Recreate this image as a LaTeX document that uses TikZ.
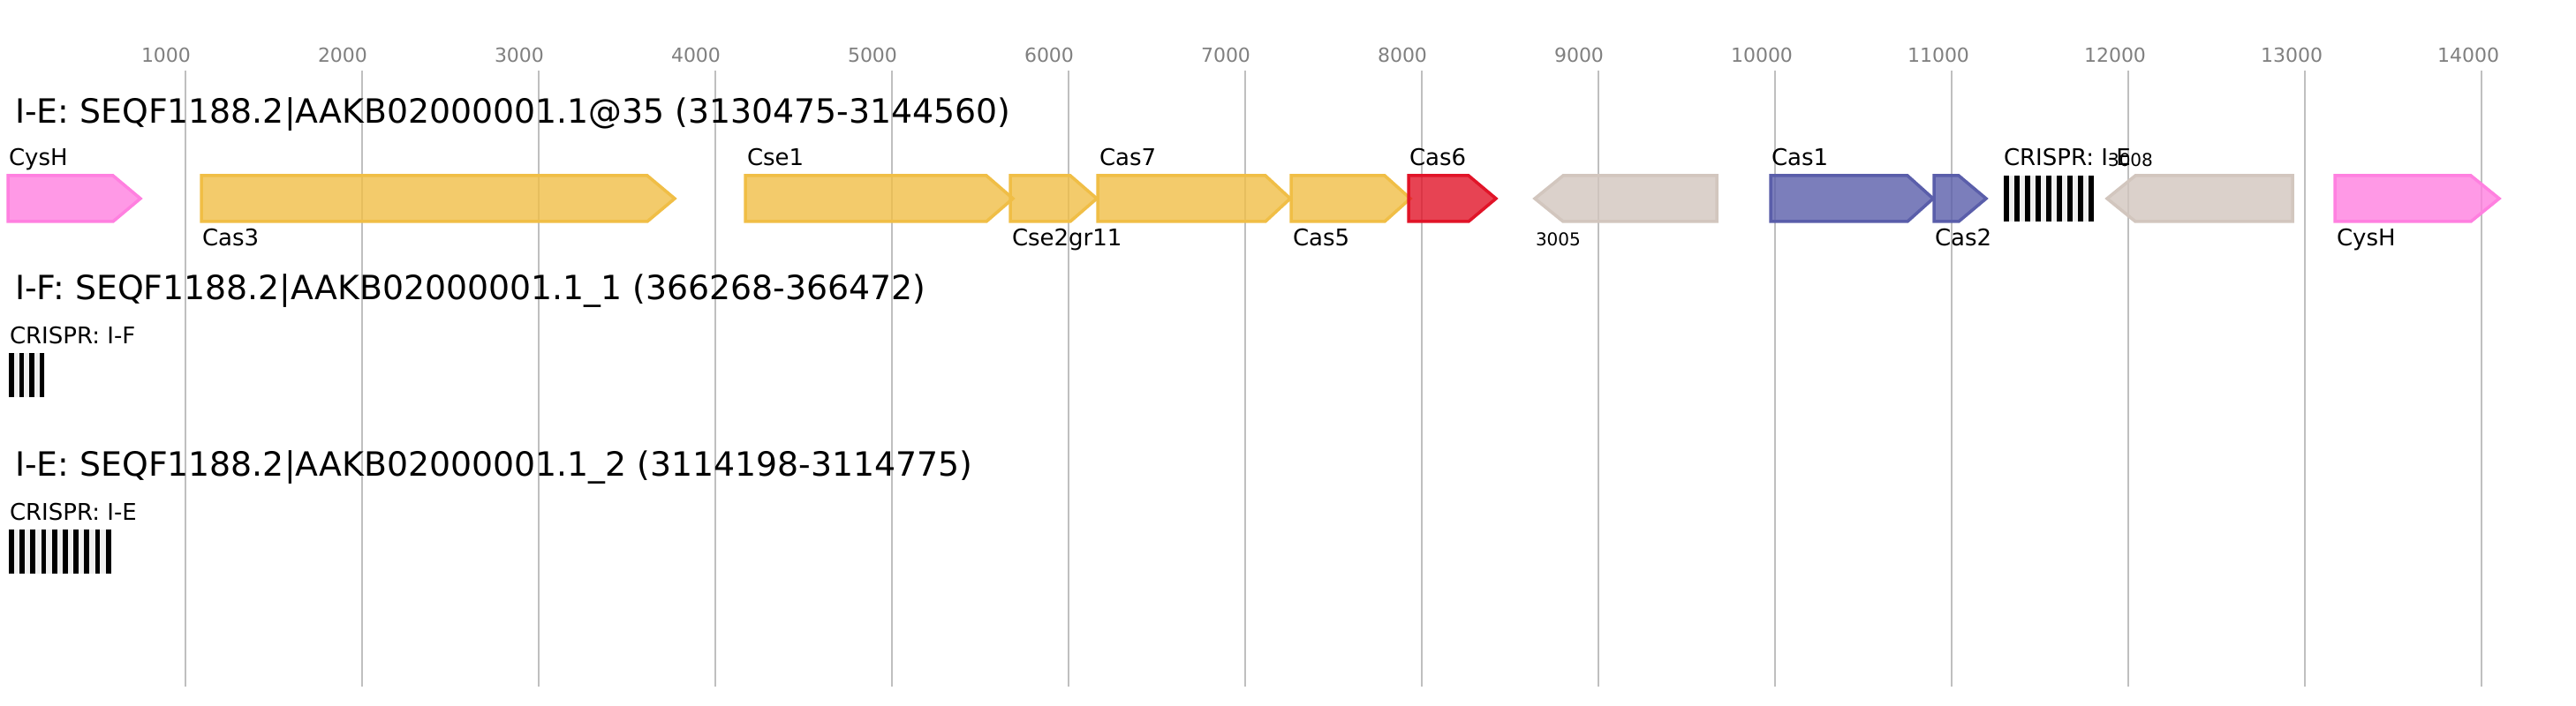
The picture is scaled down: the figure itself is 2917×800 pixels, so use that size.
\documentclass[tikz,border=0pt]{standalone}
\usepackage{fontspec}
\setmainfont{DejaVu Sans}
\usepackage{xcolor}

\begin{document}
\begin{tikzpicture}[x=1pt,y=1pt,
  genearrow/.style={line width=3.5pt,line join=miter,fill opacity=0.8},
  genelabel/.style={anchor=base west,inner sep=0pt,outer sep=0pt,scale=2.6},
  smalllabel/.style={anchor=base west,inner sep=0pt,outer sep=0pt,scale=2.0},
  tracktitle/.style={anchor=base west,inner sep=0pt,outer sep=0pt,scale=3.78},
  ticklabel/.style={anchor=base west,inner sep=0pt,outer sep=0pt,scale=2.2}]
\definecolor{fillColor}{RGB}{255,255,255}
\path[use as bounding box,fill=fillColor] (0,0) rectangle (2917,800);
\begin{scope}
\definecolor{drawColor}{gray}{0.75}

\path[draw=drawColor,line width= 2pt] ( 210,720) -- ( 210,22);

\path[draw=drawColor,line width= 2pt] ( 410,720) -- ( 410,22);

\path[draw=drawColor,line width= 2pt] ( 610,720) -- ( 610,22);

\path[draw=drawColor,line width= 2pt] ( 810,720) -- ( 810,22);

\path[draw=drawColor,line width= 2pt] (1010,720) -- (1010,22);

\path[draw=drawColor,line width= 2pt] (1210,720) -- (1210,22);

\path[draw=drawColor,line width= 2pt] (1410,720) -- (1410,22);

\path[draw=drawColor,line width= 2pt] (1610,720) -- (1610,22);

\path[draw=drawColor,line width= 2pt] (1810,720) -- (1810,22);

\path[draw=drawColor,line width= 2pt] (2010,720) -- (2010,22);

\path[draw=drawColor,line width= 2pt] (2210,720) -- (2210,22);

\path[draw=drawColor,line width= 2pt] (2410,720) -- (2410,22);

\path[draw=drawColor,line width= 2pt] (2610,720) -- (2610,22);

\path[draw=drawColor,line width= 2pt] (2810,720) -- (2810,22);
\definecolor{drawColor}{gray}{0.50}

\node[text=drawColor,ticklabel] (t1) at ( 160,729) {1000};

\node[text=drawColor,ticklabel] (t2) at ( 360,729) {2000};

\node[text=drawColor,ticklabel] (t3) at ( 560,729) {3000};

\node[text=drawColor,ticklabel] (t4) at ( 760,729) {4000};

\node[text=drawColor,ticklabel] (t5) at ( 960,729) {5000};

\node[text=drawColor,ticklabel] (t6) at (1160,729) {6000};

\node[text=drawColor,ticklabel] (t7) at (1360,729) {7000};

\node[text=drawColor,ticklabel] (t8) at (1560,729) {8000};

\node[text=drawColor,ticklabel] (t9) at (1760,729) {9000};

\node[text=drawColor,ticklabel] (t10) at (1960,729) {10000};

\node[text=drawColor,ticklabel] (t11) at (2160,729) {11000};

\node[text=drawColor,ticklabel] (t12) at (2360,729) {12000};

\node[text=drawColor,ticklabel] (t13) at (2560,729) {13000};

\node[text=drawColor,ticklabel] (t14) at (2760,729) {14000};
\end{scope}
% track 1
\begin{scope}
\node[tracktitle] (title1) at (17,660) {I-E: SEQF1188.2|AAKB02000001.1@35 (3130475-3144560)};
\definecolor{drawColor}{RGB}{255,128,224}

\path[draw=drawColor,fill=drawColor,genearrow] (   9,601) -- ( 128,601) -- ( 159,575) -- ( 128,549) -- (   9,549) -- cycle;

\path[draw=drawColor,fill=drawColor,genearrow] (2644,601) -- (2798,601) -- (2830,575) -- (2798,549) -- (2644,549) -- cycle;
\definecolor{drawColor}{RGB}{240,190,70}

\path[draw=drawColor,fill=drawColor,genearrow] ( 228,601) -- ( 733,601) -- ( 764,575) -- ( 733,549) -- ( 228,549) -- cycle;

\path[draw=drawColor,fill=drawColor,genearrow] ( 844,601) -- (1117,601) -- (1147,575) -- (1117,549) -- ( 844,549) -- cycle;

\path[draw=drawColor,fill=drawColor,genearrow] (1144,601) -- (1212,601) -- (1242,575) -- (1212,549) -- (1144,549) -- cycle;

\path[draw=drawColor,fill=drawColor,genearrow] (1243,601) -- (1433,601) -- (1461,575) -- (1433,549) -- (1243,549) -- cycle;

\path[draw=drawColor,fill=drawColor,genearrow] (1462,601) -- (1568,601) -- (1597,575) -- (1568,549) -- (1462,549) -- cycle;
\definecolor{drawColor}{RGB}{225,20,40}

\path[draw=drawColor,fill=drawColor,genearrow] (1595,601) -- (1663,601) -- (1694,575) -- (1663,549) -- (1595,549) -- cycle;
\definecolor{drawColor}{RGB}{210,198,190}

\path[draw=drawColor,fill=drawColor,genearrow] (1738,575) -- (1770,601) -- (1944,601) -- (1944,549) -- (1770,549) -- cycle;

\path[draw=drawColor,fill=drawColor,genearrow] (2386,575) -- (2418,601) -- (2596,601) -- (2596,549) -- (2418,549) -- cycle;
\definecolor{drawColor}{RGB}{90,94,170}

\path[draw=drawColor,fill=drawColor,genearrow] (2005,601) -- (2160,601) -- (2189,575) -- (2160,549) -- (2005,549) -- cycle;

\path[draw=drawColor,fill=drawColor,genearrow] (2190,601) -- (2218,601) -- (2249,575) -- (2218,549) -- (2190,549) -- cycle;
\definecolor{fillColor}{gray}{0.94}

\path[fill=fillColor] (2269,549) rectangle (2371,601);

\path[fill=black] (2269,549) rectangle +(5.5,52);

\path[fill=black] (2281,549) rectangle +(5.5,52);

\path[fill=black] (2293,549) rectangle +(5.5,52);

\path[fill=black] (2305,549) rectangle +(5.5,52);

\path[fill=black] (2317,549) rectangle +(5.5,52);

\path[fill=black] (2329,549) rectangle +(5.5,52);

\path[fill=black] (2341,549) rectangle +(5.5,52);

\path[fill=black] (2353,549) rectangle +(5.5,52);

\path[fill=black] (2365,549) rectangle +(5.5,52);

\node[genelabel] (cysh1) at (  10,612) {CysH};

\node[genelabel] (cas3) at ( 229,521) {Cas3};

\node[genelabel] (cse1) at ( 846,612) {Cse1};

\node[genelabel] (cse2) at (1146,521) {Cse2gr11};

\node[genelabel] (cas7) at (1245,612) {Cas7};

\node[genelabel] (cas5) at (1464,521) {Cas5};

\node[genelabel] (cas6) at (1596,612) {Cas6};

\node[smalllabel] (g3005) at (1739,521) {3005};

\node[genelabel] (cas1) at (2006,612) {Cas1};

\node[genelabel] (cas2) at (2191,521) {Cas2};

\node[genelabel] (crispr1) at (2269,612) {CRISPR: I-E};

\node[smalllabel] (g3008) at (2387,611) {3008};

\node[genelabel] (cysh2) at (2646,521) {CysH};
\end{scope}
% track 2
\begin{scope}
\node[tracktitle] (title2) at (17,460) {I-F: SEQF1188.2|AAKB02000001.1\_1 (366268-366472)};
\definecolor{fillColor}{gray}{0.94}

\path[fill=fillColor] (10,350) rectangle (50.5,400);

\path[fill=black] (10.0,350) rectangle +(5.7,50);

\path[fill=black] (21.5,350) rectangle +(5.7,50);

\path[fill=black] (33.0,350) rectangle +(5.7,50);

\path[fill=black] (44.5,350) rectangle +(5.7,50);

\node[genelabel] (crispr2) at (11,410) {CRISPR: I-F};
\end{scope}
% track 3
\begin{scope}
\node[tracktitle] (title3) at (17,260) {I-E: SEQF1188.2|AAKB02000001.1\_2 (3114198-3114775)};
\definecolor{fillColor}{gray}{0.94}

\path[fill=fillColor] (10,150) rectangle (125.5,200);

\path[fill=black] ( 10.0,150) rectangle +(5.7,50);

\path[fill=black] ( 22.2,150) rectangle +(5.7,50);

\path[fill=black] ( 34.4,150) rectangle +(5.7,50);

\path[fill=black] ( 46.6,150) rectangle +(5.7,50);

\path[fill=black] ( 58.8,150) rectangle +(5.7,50);

\path[fill=black] ( 71.0,150) rectangle +(5.7,50);

\path[fill=black] ( 83.2,150) rectangle +(5.7,50);

\path[fill=black] ( 95.4,150) rectangle +(5.7,50);

\path[fill=black] (107.6,150) rectangle +(5.7,50);

\path[fill=black] (119.8,150) rectangle +(5.7,50);

\node[genelabel] (crispr3) at (11,210) {CRISPR: I-E};
\end{scope}
\end{tikzpicture}
\end{document}
